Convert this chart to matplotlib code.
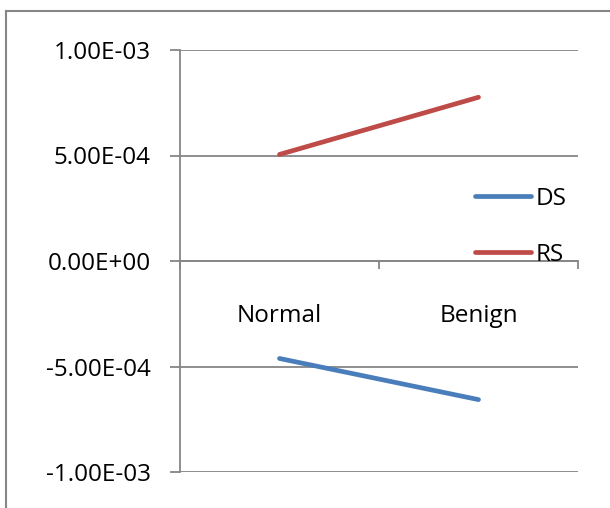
import matplotlib
matplotlib.use("Agg")
import matplotlib.pyplot as plt
from matplotlib.lines import Line2D
from matplotlib.ticker import FixedLocator, FuncFormatter

categories = ["Normal", "Benign"]
ds_values = [-4.62e-4, -6.57e-4]
rs_values = [5.05e-4, 7.76e-4]
y_ticks = [-1e-3, -5e-4, 0.0, 5e-4, 1e-3]
y_tick_labels = ["-1.00E-03", "-5.00E-04", "0.00E+00", "5.00E-04", "1.00E-03"]

plt.rcParams['font.family'] = ['Open Sans', 'DejaVu Sans']
W, H = 610, 508
fig = plt.figure(figsize=(W/100, H/100), dpi=100)
ax = fig.add_axes([180/W, 1-472/H, (578-180)/W, (472-50)/H])

grid_c = "#868686"
xs = [i + 0.5 for i in range(len(categories))]
ax.plot(xs, ds_values, color="#4A7EBB", lw=3.4, solid_capstyle="round", label="DS", zorder=3)
ax.plot(xs, rs_values, color="#BE4B48", lw=3.4, solid_capstyle="round", label="RS", zorder=3)

ax.set_xlim(0, len(categories))
ax.set_ylim(y_ticks[0], y_ticks[-1])
ax.set_yticks(y_ticks)
ax.set_yticklabels(y_tick_labels)
ax.yaxis.grid(True, color=grid_c, lw=1.3)
ax.set_axisbelow(True)

for s in ["top", "right"]:
    ax.spines[s].set_visible(False)
ax.spines["left"].set_color(grid_c)
ax.spines["left"].set_linewidth(1.3)
ax.spines["bottom"].set_position(("data", 0))
ax.spines["bottom"].set_color(grid_c)
ax.spines["bottom"].set_linewidth(1.3)

ax.tick_params(axis="y", length=7, width=1.3, color=grid_c, labelsize=17.5, pad=14, labelcolor="black")
ax.xaxis.set_major_locator(FixedLocator([0, 1, 2]))
ax.xaxis.set_major_formatter(FuncFormatter(lambda v, p: ""))
ax.xaxis.set_minor_locator(FixedLocator(xs))
ax.xaxis.set_minor_formatter(FuncFormatter(lambda v, p: categories[p] if p < len(categories) else ""))
ax.tick_params(axis="x", which="major", direction="out", length=6, width=1.3, color=grid_c)
ax.tick_params(axis="x", which="minor", length=0, pad=31, labelsize=17.5)

leg = ax.legend(loc="upper left", bbox_to_anchor=(475/W, 1-187/H), bbox_transform=fig.transFigure,
                frameon=False, fontsize=17.5, handlelength=2.3, handletextpad=0.2,
                labelspacing=1.3, borderpad=0, borderaxespad=0)

fig.add_artist(Line2D([6/W, 1.0], [1-11/H, 1-11/H], transform=fig.transFigure, color=grid_c, lw=1.5))
fig.add_artist(Line2D([6/W, 6/W], [0, 1-11/H], transform=fig.transFigure, color=grid_c, lw=1.5))

fig.savefig("out.png", dpi=100)
